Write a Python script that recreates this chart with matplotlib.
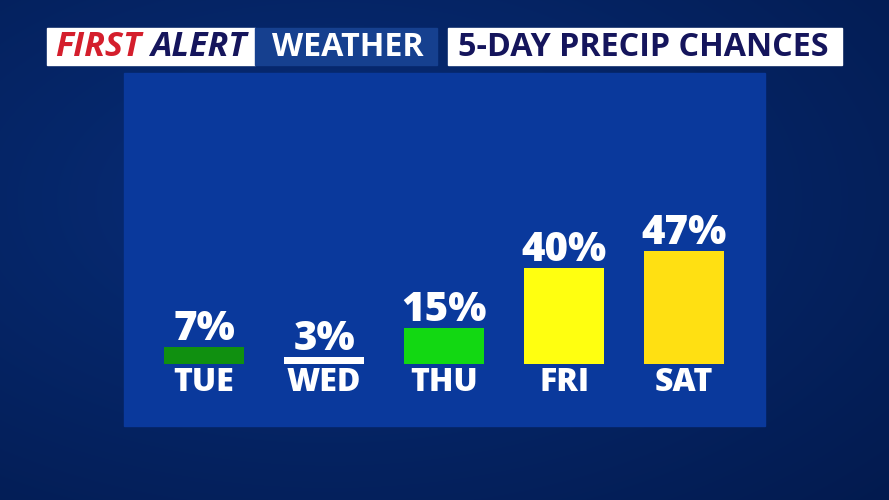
import numpy as np
import matplotlib
matplotlib.use("Agg")
import matplotlib.pyplot as plt
from matplotlib.patches import Rectangle

# data
days = ["TUE", "WED", "THU", "FRI", "SAT"]
chances = [7, 3, 15, 40, 47]
bar_colors = ["#109010", "#ffffff", "#12d812", "#ffff10", "#ffe012"]

title_parts = ["FIRST", "ALERT", "WEATHER", "5-DAY PRECIP CHANCES"]

W, H = 889, 500
fig = plt.figure(figsize=(W / 100, H / 100), dpi=100)

# background layer in pixel coordinates
bg = fig.add_axes([0, 0, 1, 1])
bg.set_xlim(0, W)
bg.set_ylim(H, 0)
bg.axis("off")

yy, xx = np.mgrid[0:H, 0:W]
r = np.sqrt(((xx - 330) / W) ** 2 + ((yy - 200) / H) ** 2)
shade = np.clip(1 - r * 1.1, 0, 1)
c_dark = np.array([0.01, 0.10, 0.30])
c_light = np.array([0.03, 0.18, 0.48])
img = c_dark + (c_light - c_dark) * shade[..., None]
bg.imshow(img, extent=(0, W, H, 0), aspect="auto", zorder=0)

# main panel
bg.add_patch(Rectangle((124, 73), 641, 353, color="#0a399c", zorder=1))

# title boxes
bg.add_patch(Rectangle((47, 28), 208, 37, color="white", zorder=2))
bg.add_patch(Rectangle((255, 28), 182, 37, color="#16408f", zorder=2))
bg.add_patch(Rectangle((448, 28), 394, 37, color="white", zorder=2))


def fit_text(txt, width_px):
    # shrink font until the text fits the given pixel width
    fig.canvas.draw()
    w = txt.get_window_extent().width * W / fig.bbox.width
    txt.set_fontsize(txt.get_fontsize() * width_px / w)


ty = 47
tfont = dict(fontfamily=["Open Sans", "DejaVu Sans"], fontweight="bold",
             fontsize=24, va="center", zorder=3)
t1 = bg.text(55, ty, title_parts[0] + " " + title_parts[1], color="#d41e2c",
             style="italic", ha="left", **tfont)
fit_text(t1, 192)
fig.canvas.draw()
fs = t1.get_fontsize()
t1.set_text(title_parts[0])
t1b = bg.text(55, ty, title_parts[0] + " ", style="italic", ha="left", color="none",
              fontfamily=["Open Sans", "DejaVu Sans"], fontweight="bold", fontsize=fs, va="center")
fig.canvas.draw()
x2 = t1b.get_window_extent().x1 * W / fig.bbox.width
t1b.remove()
bg.text(x2, ty, title_parts[1], color="#15155c", style="italic", ha="left",
        fontfamily=["Open Sans", "DejaVu Sans"], fontweight="bold", fontsize=fs,
        va="center", zorder=3)
t3 = bg.text(348, ty, title_parts[2], color="white", ha="center", **tfont)
fit_text(t3, 152)
t4 = bg.text(643, ty, title_parts[3], color="#15155c", ha="center", **tfont)
fit_text(t4, 371)

# bar chart
ax = fig.add_axes([124 / W, (H - 426) / H, 641 / W, 353 / H])
ax.patch.set_alpha(0)
x = np.arange(len(days))
ax.bar(x, chances, width=0.667, color=bar_colors, zorder=2)
ax.set_xlim(-0.667, 4.675)
ax.set_ylim(-62 / 2.4, 291 / 2.4)
ax.axis("off")

lfont = dict(fontfamily=["Open Sans", "DejaVu Sans"], fontweight=800, color="white")
for i, (d, v) in enumerate(zip(days, chances)):
    ax.annotate(f"{v}%", (i, v), xytext=(0, -2), textcoords="offset points",
                ha="center", va="bottom", fontsize=29, **lfont)
    ax.annotate(d, (i, 0), xytext=(0, -2), textcoords="offset points",
                ha="center", va="top", fontsize=23, **lfont)

fig.savefig("out.png", dpi=100)
